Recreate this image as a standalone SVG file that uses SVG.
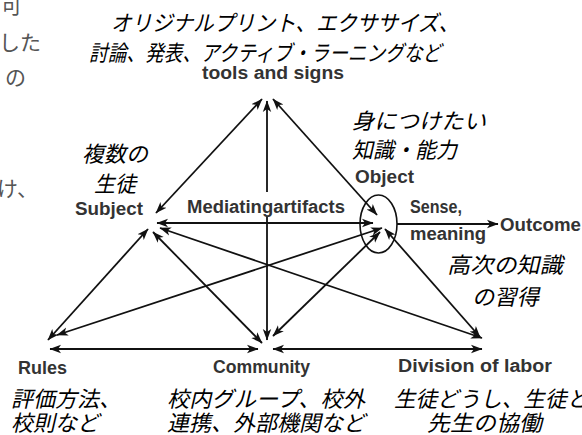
<svg xmlns="http://www.w3.org/2000/svg" width="582" height="435" viewBox="0 0 582 435">
<style>
.en{font-family:"Liberation Sans",Arial,sans-serif;font-weight:bold;font-size:18px;fill:#333}
.jp{font-family:"Noto Sans CJK JP",sans-serif;font-size:22px;fill:#000}
.frag{font-family:"Noto Sans CJK JP",sans-serif;font-size:21px;fill:#555}
.c line{stroke:#111;stroke-width:1.8}
.b{marker-start:url(#ah);marker-end:url(#ah)}
.e{marker-end:url(#ah)}
</style>
<defs>
<marker id="ah" viewBox="0 0 12 10" markerWidth="12" markerHeight="10" refX="11" refY="5" orient="auto-start-reverse" markerUnits="userSpaceOnUse">
<path d="M0,0.8 L11.5,5 L0,9.2 L3,5 z" fill="#111"/>
</marker>
</defs>
<rect width="582" height="435" fill="#fff"/>
<g id="fragments">
<text class="frag" x="1" y="13">可</text>
<text class="frag" x="41" y="50" text-anchor="end">した</text>
<text class="frag" x="26" y="85" text-anchor="end">の</text>
<text class="frag" x="38" y="196" text-anchor="end">け、</text>
</g>
<g id="connectors" class="c">
<line class="b" x1="262" y1="99" x2="156" y2="213"/>
<line class="b" x1="273" y1="99" x2="377" y2="215"/>
<line class="b" x1="267" y1="101" x2="267" y2="340"/>
<line class="b" x1="157" y1="223" x2="373" y2="223"/>
<line class="b" x1="148" y1="229" x2="48" y2="340"/>
<line class="b" x1="153" y1="232" x2="262" y2="343"/>
<line class="b" x1="160" y1="228" x2="482" y2="338"/>
<line class="b" x1="382" y1="228" x2="57" y2="335"/>
<line class="b" x1="380" y1="232" x2="273" y2="336"/>
<line class="b" x1="385" y1="229" x2="480" y2="337"/>
<line class="b" x1="50" y1="349" x2="258" y2="349"/>
<line class="b" x1="273" y1="349" x2="482" y2="349"/>
<line class="e" x1="397" y1="224" x2="498" y2="224"/>
</g>
<g id="node-mediating">
<rect x="185" y="192" width="163" height="24" fill="#fff"/>
<text class="en" x="187" y="213" textLength="158" lengthAdjust="spacingAndGlyphs">Mediatingartifacts</text>
</g>
<g id="node-tools">
<text class="jp" transform="translate(111,31) skewX(-13)" font-size="20.5" textLength="348" lengthAdjust="spacingAndGlyphs">オリジナルプリント、エクササイズ、</text>
<text class="jp" transform="translate(89,61) skewX(-13)" font-size="20.5" textLength="352" lengthAdjust="spacingAndGlyphs">討論、発表、アクティブ・ラーニングなど</text>
<text class="en" x="202" y="79" font-size="17" textLength="142" lengthAdjust="spacingAndGlyphs">tools and signs</text>
</g>
<g id="node-subject">
<text class="jp" transform="translate(82,162) skewX(-13)" textLength="66" lengthAdjust="spacingAndGlyphs">複数の</text>
<text class="jp" transform="translate(94,192) skewX(-13)" textLength="42" lengthAdjust="spacingAndGlyphs">生徒</text>
<text class="en" x="75" y="215" textLength="68" lengthAdjust="spacingAndGlyphs">Subject</text>
</g>
<g id="node-object">
<text class="jp" transform="translate(352,129) skewX(-13)" textLength="134" lengthAdjust="spacingAndGlyphs">身につけたい</text>
<text class="jp" transform="translate(352,158) skewX(-13)" textLength="105" lengthAdjust="spacingAndGlyphs">知識・能力</text>
<text class="en" x="355" y="183" textLength="59" lengthAdjust="spacingAndGlyphs">Object</text>
<ellipse cx="378.5" cy="224" rx="18.5" ry="29" fill="none" stroke="#111" stroke-width="1.6"/>
<text class="en" x="410" y="213" textLength="52" lengthAdjust="spacingAndGlyphs">Sense,</text>
<text class="en" x="410" y="240" textLength="76" lengthAdjust="spacingAndGlyphs">meaning</text>
</g>
<g id="node-outcome">
<text class="en" x="500" y="231" textLength="81" lengthAdjust="spacingAndGlyphs">Outcome</text>
<text class="jp" transform="translate(447,273) skewX(-13)" font-size="23" textLength="116" lengthAdjust="spacingAndGlyphs">高次の知識</text>
<text class="jp" transform="translate(472,305) skewX(-13)" font-size="23" textLength="67" lengthAdjust="spacingAndGlyphs">の習得</text>
</g>
<g id="node-rules">
<text class="en" x="18" y="374" textLength="49" lengthAdjust="spacingAndGlyphs">Rules</text>
<text class="jp" transform="translate(11,407) skewX(-13)" font-size="21.5">評価方法、</text>
<text class="jp" transform="translate(11,431) skewX(-13)" font-size="21.5">校則など</text>
</g>
<g id="node-community">
<text class="en" x="213" y="373" textLength="97" lengthAdjust="spacingAndGlyphs">Community</text>
<text class="jp" transform="translate(167,407) skewX(-13)" font-size="21.5" textLength="198" lengthAdjust="spacingAndGlyphs">校内グループ、校外</text>
<text class="jp" transform="translate(167,431) skewX(-13)" font-size="21.5" textLength="198" lengthAdjust="spacingAndGlyphs">連携、外部機関など</text>
</g>
<g id="node-division">
<text class="en" x="398" y="372" textLength="154" lengthAdjust="spacingAndGlyphs">Division of labor</text>
<text class="jp" transform="translate(394,407) skewX(-13)" font-size="21.5" textLength="194" lengthAdjust="spacingAndGlyphs">生徒どうし、生徒と</text>
<text class="jp" transform="translate(427,431) skewX(-13)" font-size="21.5" textLength="115" lengthAdjust="spacingAndGlyphs">先生の協働</text>
</g>
</svg>
